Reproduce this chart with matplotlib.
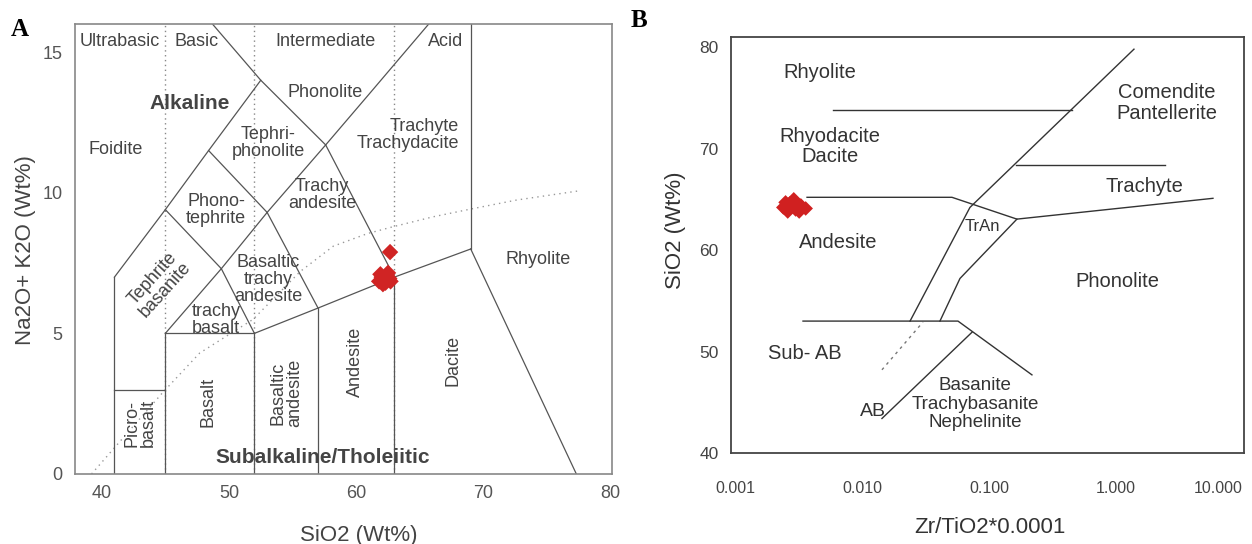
import matplotlib
matplotlib.use("Agg")
import matplotlib.pyplot as plt
from matplotlib.ticker import FixedLocator, FormatStrFormatter, NullLocator

plt.rcParams['font.family'] = ['Liberation Sans', 'DejaVu Sans']

# ---------------- panel A : TAS diagram ----------------
tas_xticks = [40, 50, 60, 70, 80]
tas_yticks = [0, 5, 10, 15]

# field boundaries (SiO2, Na2O+K2O)
tas_lines = [
    ([41, 41], [0, 7]),
    ([41, 45], [3, 3]),
    ([45, 45], [0, 5]),
    ([45, 52], [5, 5]),
    ([52, 52], [0, 5]),
    ([52, 57, 63, 69], [5, 5.9, 7, 8]),
    ([57, 57], [0, 5.9]),
    ([63, 63], [0, 7]),
    ([69, 77.3], [8, 0]),
    ([69, 69], [8, 16]),
    ([45, 49.4, 52], [5, 7.3, 5]),
    ([49.4, 53, 57], [7.3, 9.3, 5.9]),
    ([53, 57.6, 63], [9.3, 11.7, 7]),
    ([57.6, 61, 65.7], [11.7, 13.5, 16]),
    ([41, 45, 48.4, 52.5], [7, 9.4, 11.5, 14]),
    ([45, 49.4], [9.4, 7.3]),
    ([48.4, 53], [11.5, 9.3]),
    ([48.7, 52.5, 57.6], [16, 14, 11.7]),
]
# ultrabasic / basic / intermediate / acid limits
tas_silica_limits = [45, 52, 63]
# alkaline - subalkaline divide (as drawn)
ib_sio2 = [39.2, 44.8, 47.7, 51.9, 55.6, 58.2, 60.9, 62.8, 66.0, 69.0, 72.6, 77.4]
ib_alk = [0.0, 2.9, 4.3, 5.5, 7.2, 8.1, 8.55, 8.78, 9.14, 9.42, 9.74, 10.06]

# samples
a_sio2 = [61.8, 62.0, 62.2, 62.4, 62.6, 62.1, 62.3, 61.9, 62.5, 62.7, 62.66]
a_alk = [6.85, 7.0, 6.9, 7.05, 6.95, 6.75, 6.8, 7.1, 7.15, 6.85, 7.89]

# field names: (text, x, y, rotation, size, weight, ha)
tas_labels = [
    ("Ultrabasic", 41.44, 15.36, 0, 13, "normal", "center"),
    ("Basic", 47.49, 15.36, 0, 13, "normal", "center"),
    ("Intermediate", 57.55, 15.36, 0, 13, "normal", "center"),
    ("Acid", 66.99, 15.36, 0, 13, "normal", "center"),
    ("Phonolite", 57.55, 13.58, 0, 13, "normal", "center"),
    ("Alkaline", 46.94, 13.19, 0, 15, "bold", "center"),
    ("Foidite", 41.12, 11.52, 0, 13, "normal", "center"),
    ("Tephri-\nphonolite", 53.07, 11.77, 0, 13, "normal", "center"),
    ("Trachyte\nTrachydacite", 68.09, 12.07, 0, 13, "normal", "right"),
    ("Phono-\ntephrite", 48.98, 9.39, 0, 13, "normal", "center"),
    ("Trachy\nandesite", 57.32, 9.92, 0, 13, "normal", "center"),
    ("Tephrite\nbasanite", 44.5, 6.75, 48, 13, "normal", "center"),
    ("Basaltic\ntrachy\nandesite", 53.07, 6.93, 0, 13, "normal", "center"),
    ("trachy\nbasalt", 48.98, 5.48, 0, 13, "normal", "center"),
    ("Rhyolite", 74.3, 7.64, 0, 13, "normal", "center"),
    ("Picro-\nbasalt", 43.01, 1.81, 90, 13, "normal", "center"),
    ("Basalt", 48.36, 2.56, 90, 13, "normal", "center"),
    ("Basaltic\nandesite", 54.49, 2.88, 90, 13, "normal", "center"),
    ("Andesite", 59.91, 3.98, 90, 13, "normal", "center"),
    ("Dacite", 67.62, 4.05, 90, 13, "normal", "center"),
    ("Subalkaline/Tholeiitic", 57.4, 0.6, 0, 15, "bold", "center"),
]

# ---------------- panel B : Zr/TiO2 vs SiO2 ----------------
wf_xticks = [0.001, 0.01, 0.1, 1, 10]
wf_yticks = [40, 50, 60, 70, 80]

wf_lines = [
    ([0.0059, 0.45], [73.8, 73.8]),
    ([0.0239, 0.0708, 1.387], [53.0, 64.2, 79.8]),
    ([0.00369, 0.0511, 0.166, 5.81], [65.2, 65.2, 63.05, 65.1]),
    ([0.166, 0.0591, 0.0411], [63.05, 57.2, 53.0]),
    ([0.163, 2.43], [68.4, 68.4]),
    ([0.00343, 0.0570, 0.218], [53.0, 53.0, 47.7]),
    ([0.01436, 0.0735], [43.4, 51.9]),
]
wf_dotted_zr = [0.01436, 0.0302]
wf_dotted_si = [48.2, 52.9]

b_zr = [0.0024, 0.0027, 0.0030, 0.0033, 0.0036, 0.0026, 0.0029, 0.0032, 0.0028, 0.0025]
b_si = [64.2, 64.6, 64.0, 64.4, 64.1, 63.8, 65.0, 63.8, 64.3, 64.7]

wf_labels = [
    ("Rhyolite", 0.00467, 77.5, 14.5),
    ("Rhyodacite\nDacite", 0.0056, 70.2, 14.5),
    ("Andesite", 0.00648, 60.7, 14.5),
    ("Comendite\nPantellerite", 2.52, 74.5, 14.5),
    ("Trachyte", 1.69, 66.3, 14.5),
    ("TrAn", 0.0881, 62.3, 12),
    ("Phonolite", 1.02, 56.9, 14.5),
    ("Sub- AB", 0.00356, 49.85, 14.5),
    ("AB", 0.0122, 44.04, 14),
    ("Basanite\nTrachybasanite\nNephelinite", 0.0776, 44.8, 13.5),
]

fig = plt.figure(figsize=(12.52, 5.44), dpi=100)

# ---- A ----
ax = fig.add_axes([0.0599, 0.1287, 0.4289, 0.8272])
for xs, ys in tas_lines:
    ax.plot(xs, ys, color="#555555", lw=0.9, zorder=2)
for sx in tas_silica_limits:
    ax.plot([sx, sx], [0, 16], color="#888888", lw=1.0, ls=(0, (1, 2.5)), zorder=1)
ax.plot(ib_sio2, ib_alk, color="#999999", lw=1.0, ls=(0, (1, 3)), zorder=1)
ax.scatter(a_sio2, a_alk, marker="D", s=70, color="#d02424", edgecolors="none", zorder=4)

for txt, x, y, rot, size, weight, ha in tas_labels:
    ax.text(x, y, txt, rotation=rot, fontsize=size, fontweight=weight, ha=ha,
            va="center", multialignment=ha, color="#444444", linespacing=1.0, zorder=3)

ax.set_xlim(37.9, 80.1)
ax.set_ylim(0, 16)
ax.set_xticks(tas_xticks)
ax.set_yticks(tas_yticks)
ax.tick_params(length=0, labelsize=13, labelcolor="#555555")
ax.tick_params(axis="x", pad=8)
ax.tick_params(axis="y", pad=9)
for sp in ax.spines.values():
    sp.set_color("#888888")
    sp.set_linewidth(1.2)
ax.set_xlabel("SiO2 (Wt%)", fontsize=16, color="#444444", va="center")
ax.xaxis.set_label_coords(0.529, -0.136)
ax.set_ylabel("Na2O+ K2O (Wt%)", fontsize=16, color="#444444", va="center")
ax.yaxis.set_label_coords(-0.093, 0.498)

# ---- B ----
bx = fig.add_axes([0.5839, 0.1673, 0.4097, 0.7647])
bx.set_xscale("log")
for xs, ys in wf_lines:
    bx.plot(xs, ys, color="#333333", lw=1.0, zorder=2)
bx.plot(wf_dotted_zr, wf_dotted_si, color="#777777", lw=1.0, ls=(0, (2, 3)), zorder=1)
bx.scatter(b_zr, b_si, marker="D", s=55, color="#d02020", edgecolors="none", zorder=4)

for txt, x, y, size in wf_labels:
    bx.text(x, y, txt, fontsize=size, ha="center", va="center", multialignment="center",
            color="#333333", linespacing=1.1, zorder=3)

bx.set_xlim(0.00093, 10.2)
bx.set_ylim(40, 81)
bx.xaxis.set_major_locator(FixedLocator(wf_xticks))
bx.xaxis.set_minor_locator(NullLocator())
bx.xaxis.set_major_formatter(FormatStrFormatter("%.3f"))
bx.set_yticks(wf_yticks)
bx.tick_params(length=0, labelcolor="#444444")
bx.tick_params(axis="x", pad=20, labelsize=11.5)
bx.tick_params(axis="y", pad=9, labelsize=12.5)
# last label sits at the right edge of the figure
bx.get_xticklabels()[-1].set_horizontalalignment("right")
for sp in bx.spines.values():
    sp.set_color("#444444")
    sp.set_linewidth(1.3)
bx.set_xlabel("Zr/TiO2*0.0001", fontsize=16, color="#333333", va="center")
bx.xaxis.set_label_coords(0.505, -0.180)
bx.set_ylabel("SiO2 (Wt%)", fontsize=16, color="#333333", va="center")
bx.yaxis.set_label_coords(-0.109, 0.536)

# panel letters
fig.text(0.016, 0.945, "A", fontsize=18, fontweight="bold", family="Liberation Serif",
         ha="center", va="center")
fig.text(0.51, 0.963, "B", fontsize=18, fontweight="bold", family="Liberation Serif",
         ha="center", va="center")

fig.savefig("out.png", dpi=100)
